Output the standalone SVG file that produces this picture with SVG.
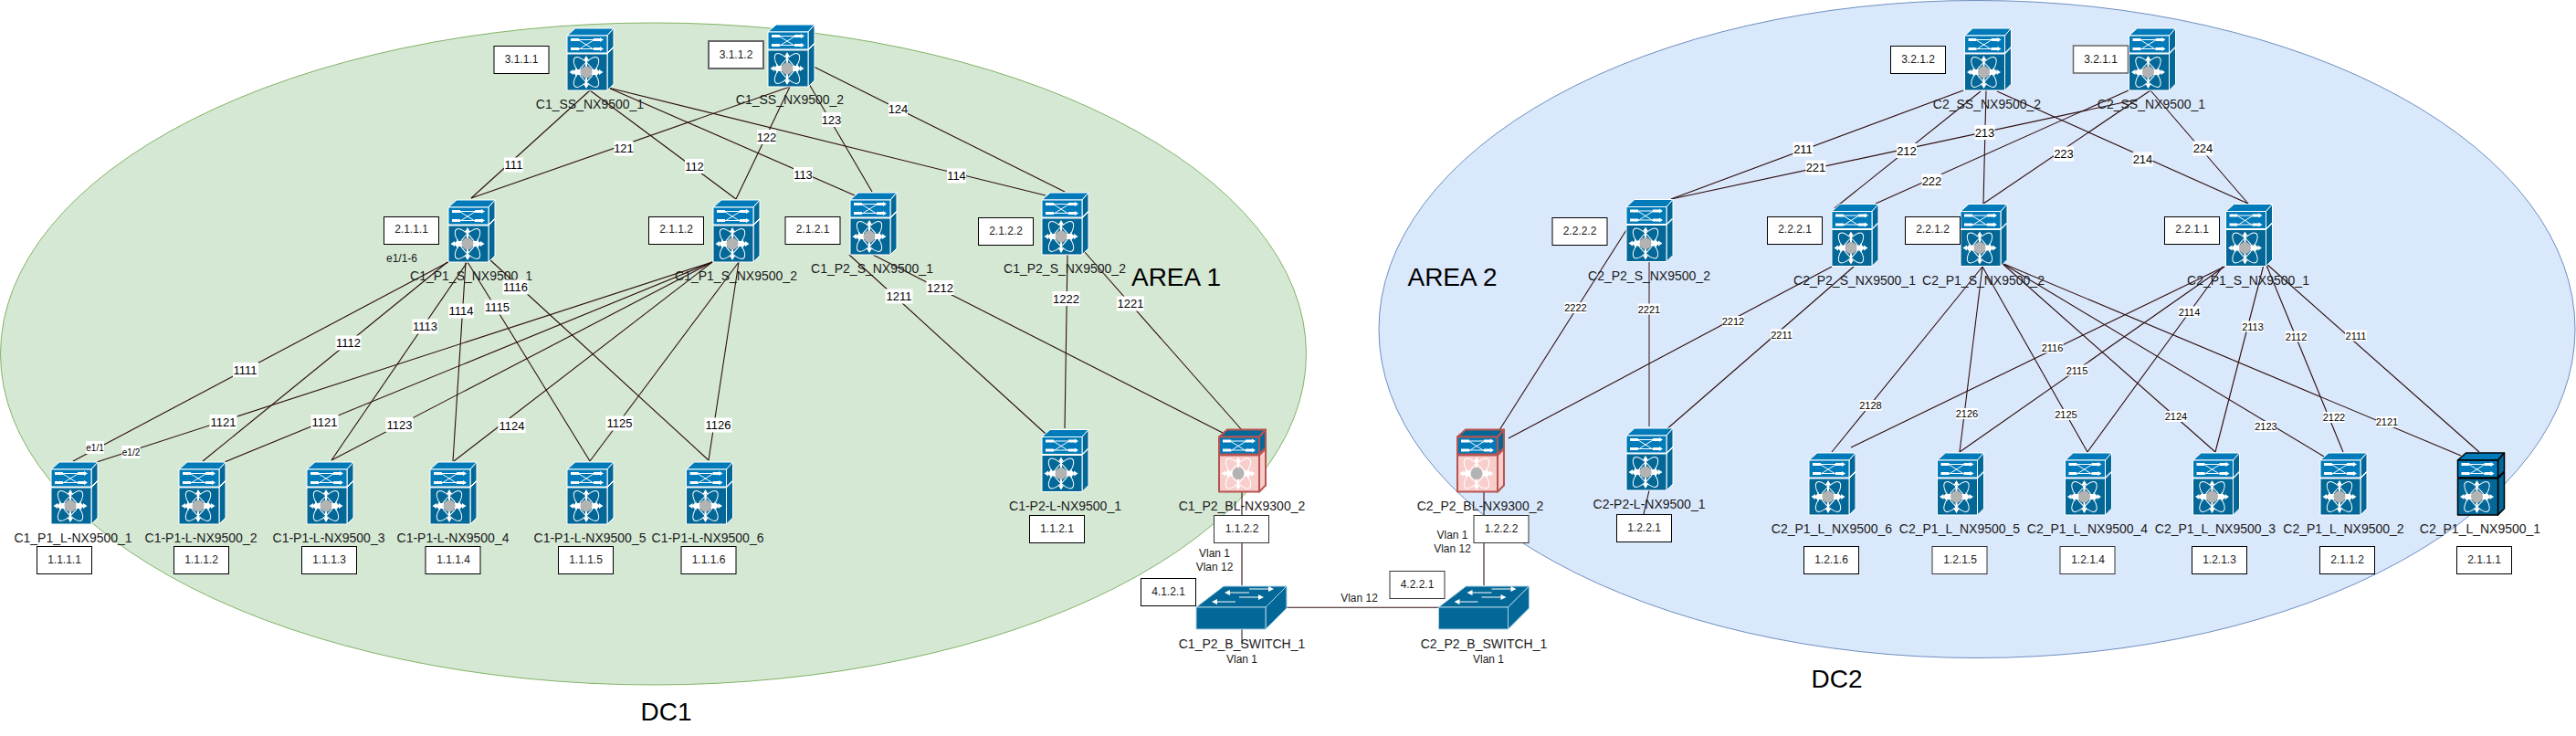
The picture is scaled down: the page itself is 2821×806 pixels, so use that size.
<svg xmlns="http://www.w3.org/2000/svg" width="2821" height="806" viewBox="0 0 2821 806">
<style>
text{font-family:"Liberation Sans",Arial,sans-serif;fill:#1a1a1a;text-anchor:middle;dominant-baseline:central}
.nl{font-size:14px}
.ip{font-size:12px}
.big{font-size:28px;fill:#000}
.v{font-size:12px}
.el{font-size:13px;fill:#000}
.es{font-size:11px;fill:#000}
.ep{font-size:10px;fill:#000}
.box{fill:#fff;stroke:#000;stroke-width:1}
.gbox{fill:#fff;stroke:#666;stroke-width:2}
.bg{fill:#fff;stroke:none}
#connectors line{stroke:#2e0d0d;stroke-width:1.1;fill:none}
#connectors line.soft{stroke:#6d5a63;stroke-width:1.5}
.nx{--st:#fff;--sw:1;--tf:#007ab8;--tb:#007ab8;--ts:#036897;--lf:#036897;--ls:#036897}
.nx.bl{--st:#b85450;--sw:2;--tf:#036897;--ts:#036897;--lf:#f8cecc;--ls:#f8cecc}
.nx.dk{--st:#000;--sw:1.5}
.f{stroke:var(--st);stroke-width:var(--sw);stroke-linejoin:round}
.w{stroke:#fff;fill:none;stroke-width:1}
.wf{fill:#fff;stroke:none}
</style>
<defs>
<g id="nx">
<path class="f" style="fill:var(--ls)" d="M45 29L52 22V62L45 69Z"/>
<path class="f" style="fill:var(--lf)" d="M1 29H45V69H1Z"/>
<path class="f" style="fill:var(--tf)" d="M1 9L10 1H52L45 9Z"/>
<path class="f" style="fill:var(--ts)" d="M45 9L52 1V21L45 28Z"/>
<path class="f" style="fill:var(--tb)" d="M1 9H45V28H1Z"/>
<path class="wf" d="M5 12H14V15H5ZM5 22H14V25H5ZM30 12H37V11L41 13.5L37 16V15H30ZM30 22H37V21L41 23.5L37 26V25H30Z"/>
<path class="w" d="M14 14L30 24M14 24L30 14M14 13.5H30M14 23.500H30"/>
<ellipse class="w" cx="22" cy="49" rx="20" ry="7.500" transform="rotate(52 22 49)"/>
<ellipse class="w" cx="22" cy="49" rx="20" ry="7.500" transform="rotate(-52 22 49)"/>
<path class="wf" d="M22 31L25 36H23V46H32V44L37 49L32 54V52H23V62H25L22 67L19 62H21V52H12V54L7 49L12 44V46H21V36H19Z" transform="translate(0 0)"/>
<path class="wf" d="M3.500 49L8 46V52ZM40.500 49L36 46V52Z"/>
<circle cx="22" cy="49" r="6.500" fill="#b3b3b3"/>
</g>
<g id="sw">
<path d="M0 24L30 1H99L76 24Z" fill="#036897" stroke="#a8d0e6" stroke-width="1"/>
<path d="M76 24L99 1V25L76 48Z" fill="#036897" stroke="#a8d0e6" stroke-width="1"/>
<rect x="0" y="24" width="76" height="24" fill="#036897" stroke="#a8d0e6" stroke-width="1"/>
<path class="wf" d="M58 7.500V8.500H37V11L31 8L37 5V7.500ZM58 3.500H79V1L85 4L79 7V4.500H58ZM43 17.500V18.500H23V21L17 18L23 15V17.500ZM47 12.500H68V10L74 13L68 16V13.500H47Z"/>
</g>
</defs>

<ellipse id="dc1-area" cx="715.500" cy="387.500" rx="715" ry="362.500" fill="#d5e8d4" stroke="#82b366"/>
<ellipse id="dc2-area" cx="2165" cy="360.500" rx="655" ry="360" fill="#dae8fc" stroke="#6c8ebf"/>

<g id="connectors">
<line x1="646" y1="99" x2="516" y2="217"/>
<line x1="865" y1="95" x2="516" y2="217"/>
<line x1="646" y1="99" x2="806" y2="218"/>
<line x1="865" y1="95" x2="806" y2="218"/>
<line x1="666" y1="96" x2="936" y2="214"/>
<line x1="886" y1="92" x2="955" y2="210"/>
<line x1="666" y1="96" x2="1145" y2="214"/>
<line x1="891" y1="73" x2="1166" y2="210"/>
<line x1="491" y1="287" x2="80" y2="505"/>
<line x1="490" y1="287" x2="222" y2="505"/>
<line x1="511" y1="288" x2="363" y2="504"/>
<line x1="510" y1="287" x2="496" y2="505"/>
<line x1="512" y1="287" x2="646" y2="505"/>
<line x1="536" y1="284" x2="776" y2="504"/>
<line x1="780" y1="287" x2="106" y2="506"/>
<line x1="780" y1="287" x2="246" y2="506"/>
<line x1="780" y1="287" x2="363" y2="504"/>
<line x1="780" y1="287" x2="497" y2="505"/>
<line x1="809" y1="287" x2="646" y2="505"/>
<line x1="809" y1="287" x2="776" y2="504"/>
<line x1="930" y1="279" x2="1145" y2="475"/>
<line x1="956" y1="279" x2="1339" y2="474"/>
<line x1="1169" y1="279" x2="1166" y2="469"/>
<line x1="1187" y1="275" x2="1360" y2="471"/>
<line x1="1360" y1="539" x2="1360" y2="641"/>
<line class="soft" x1="1360" y1="689" x2="1360" y2="706"/>
<line x1="1409" y1="665.300" x2="1575" y2="665.300"/>
<line x1="1625" y1="539" x2="1625" y2="641"/>
<line x1="2150" y1="99" x2="1830" y2="218"/>
<line x1="2340" y1="109" x2="1830" y2="218"/>
<line x1="2169" y1="100" x2="2009" y2="228"/>
<line x1="2331" y1="99" x2="2054" y2="223"/>
<line x1="2175" y1="99" x2="2172" y2="223"/>
<line x1="2355" y1="99" x2="2172" y2="223"/>
<line x1="2187" y1="100" x2="2462" y2="223"/>
<line x1="2355" y1="99" x2="2462" y2="223"/>
<line x1="1781" y1="252" x2="1642" y2="471"/>
<line class="soft" x1="1806" y1="287" x2="1806" y2="467"/>
<line x1="1806" y1="537" x2="1800" y2="563"/>
<line x1="2006" y1="292" x2="1652" y2="480"/>
<line x1="2030" y1="292" x2="1816" y2="478"/>
<line x1="2171" y1="292" x2="2006" y2="495"/>
<line x1="2436" y1="292" x2="2027" y2="490"/>
<line x1="2171" y1="292" x2="2146" y2="495"/>
<line x1="2436" y1="292" x2="2146" y2="495"/>
<line x1="2171" y1="292" x2="2286" y2="495"/>
<line x1="2434" y1="292" x2="2286" y2="495"/>
<line x1="2192" y1="288" x2="2426" y2="495"/>
<line x1="2479" y1="290" x2="2426" y2="495"/>
<line x1="2192" y1="288" x2="2545" y2="500"/>
<line x1="2481" y1="288" x2="2566" y2="495"/>
<line x1="2192" y1="288" x2="2695" y2="499"/>
<line x1="2481" y1="288" x2="2715" y2="495"/>
</g>

<g id="n-c1-ss-1"><use href="#nx" class="nx" x="620" y="30"/><text class="nl" x="646" y="114">C1_SS_NX9500_1</text><rect class="box" x="541" y="50.500" width="60" height="30"/><text class="ip" x="571" y="65">3.1.1.1</text></g>
<g id="n-c1-ss-2"><use href="#nx" class="nx" x="840" y="26"/><text class="nl" x="865" y="109">C1_SS_NX9500_2</text><rect class="gbox" x="776" y="45" width="60" height="30"/><text class="ip" x="806" y="59.500">3.1.1.2</text></g>
<g id="n-c1-p1-s-1"><use href="#nx" class="nx" x="490" y="218"/><text class="nl" x="516" y="302">C1_P1_S_NX9500_1</text><rect class="box" x="420.500" y="237.500" width="60" height="30"/><text class="ip" x="450.500" y="251">2.1.1.1</text><text class="v" x="440" y="283">e1/1-6</text></g>
<g id="n-c1-p1-s-2"><use href="#nx" class="nx" x="780" y="218"/><text class="nl" x="806" y="302">C1_P1_S_NX9500_2</text><rect class="box" x="710.500" y="237.500" width="60" height="30"/><text class="ip" x="740.500" y="251">2.1.1.2</text></g>
<g id="n-c1-p2-s-1"><use href="#nx" class="nx" x="930" y="210"/><text class="nl" x="955" y="294">C1_P2_S_NX9500_1</text><rect class="box" x="860" y="237.500" width="60" height="30"/><text class="ip" x="890" y="251">2.1.2.1</text></g>
<g id="n-c1-p2-s-2"><use href="#nx" class="nx" x="1140" y="210"/><text class="nl" x="1166" y="294">C1_P2_S_NX9500_2</text><rect class="box" x="1071.500" y="238.500" width="60" height="30"/><text class="ip" x="1101.500" y="252.500">2.1.2.2</text></g>
<g id="n-c1-p1-l-1"><use href="#nx" class="nx" x="55" y="505"/><text class="nl" x="80" y="589">C1_P1_L-NX9500_1</text><rect class="box" x="40.500" y="598.500" width="60" height="30"/><text class="ip" x="70.500" y="612.500">1.1.1.1</text></g>
<g id="n-c1-p1-l-2"><use href="#nx" class="nx" x="195" y="505"/><text class="nl" x="220" y="589">C1-P1-L-NX9500_2</text><rect class="box" x="190.500" y="598.500" width="60" height="30"/><text class="ip" x="220.500" y="612.500">1.1.1.2</text></g>
<g id="n-c1-p1-l-3"><use href="#nx" class="nx" x="335" y="505"/><text class="nl" x="360" y="589">C1-P1-L-NX9500_3</text><rect class="box" x="330.500" y="598.500" width="60" height="30"/><text class="ip" x="360.500" y="612.500">1.1.1.3</text></g>
<g id="n-c1-p1-l-4"><use href="#nx" class="nx" x="470" y="505"/><text class="nl" x="496" y="589">C1-P1-L-NX9500_4</text><rect class="box" x="466" y="598.500" width="60" height="30"/><text class="ip" x="496.500" y="612.500">1.1.1.4</text></g>
<g id="n-c1-p1-l-5"><use href="#nx" class="nx" x="620" y="505"/><text class="nl" x="646" y="589">C1-P1-L-NX9500_5</text><rect class="box" x="611.500" y="598.500" width="60" height="30"/><text class="ip" x="641.500" y="612.500">1.1.1.5</text></g>
<g id="n-c1-p1-l-6"><use href="#nx" class="nx" x="750.500" y="505"/><text class="nl" x="775" y="589">C1-P1-L-NX9500_6</text><rect class="box" x="746" y="598.500" width="60" height="30"/><text class="ip" x="776" y="612.500">1.1.1.6</text></g>
<g id="n-c1-p2-l-1"><use href="#nx" class="nx" x="1140" y="469.500"/><text class="nl" x="1166.500" y="554">C1-P2-L-NX9500_1</text><rect class="box" x="1127.500" y="564.500" width="60" height="30"/><text class="ip" x="1157.500" y="578.500">1.1.2.1</text></g>
<g id="n-c1-p2-bl-2"><use href="#nx" class="nx bl" x="1334" y="469.500"/><text class="nl" x="1360" y="554">C1_P2_BL-NX9300_2</text><rect class="box" x="1329.500" y="564.500" width="60" height="30" style="stroke:#333"/><text class="ip" x="1360" y="578.500">1.1.2.2</text><text class="v" x="1330" y="605.500">Vlan 1</text><text class="v" x="1330" y="620.500">Vlan 12</text></g>
<g id="n-c1-sw"><use href="#sw" x="1310" y="641"/><rect class="box" x="1249.500" y="633.500" width="60" height="30"/><text class="ip" x="1279.500" y="647.500">4.1.2.1</text><text class="nl" x="1360" y="705">C1_P2_B_SWITCH_1</text><text class="v" x="1360" y="722">Vlan 1</text></g>
<g id="n-c2-sw"><use href="#sw" x="1575.500" y="641"/><rect class="box" x="1522" y="625.500" width="60" height="30" style="stroke:#333"/><text class="ip" x="1552" y="639.500">4.2.2.1</text><text class="nl" x="1625" y="705">C2_P2_B_SWITCH_1</text><text class="v" x="1630" y="722">Vlan 1</text><text class="v" x="1488.500" y="655">Vlan 12</text></g>
<g id="n-c2-p2-bl-2"><use href="#nx" class="nx bl" x="1595" y="469.500"/><text class="nl" x="1621" y="554">C2_P2_BL-NX9300_2</text><rect class="box" x="1614" y="564.500" width="60" height="30" style="stroke:#333"/><text class="ip" x="1644" y="578.500">1.2.2.2</text><text class="v" x="1590.500" y="585.500">Vlan 1</text><text class="v" x="1590.500" y="600.500">Vlan 12</text></g>
<g id="n-c2-p2-l-1"><use href="#nx" class="nx" x="1780" y="468"/><text class="nl" x="1806" y="552">C2-P2-L-NX9500_1</text><rect class="box" x="1770.500" y="563.500" width="60" height="30"/><text class="ip" x="1800.500" y="577.500">1.2.2.1</text></g>
<g id="n-c2-p2-s-2"><use href="#nx" class="nx" x="1780" y="217.500"/><text class="nl" x="1806" y="302">C2_P2_S_NX9500_2</text><rect class="box" x="1700" y="238.500" width="60" height="30"/><text class="ip" x="1730" y="252.500">2.2.2.2</text></g>
<g id="n-c2-p2-s-1"><use href="#nx" class="nx" x="2005" y="222.500"/><text class="nl" x="2031" y="307">C2_P2_S_NX9500_1</text><rect class="box" x="1935.500" y="237.500" width="60" height="30"/><text class="ip" x="1965.500" y="251">2.2.2.1</text></g>
<g id="n-c2-p1-s-2"><use href="#nx" class="nx" x="2146" y="222.500"/><text class="nl" x="2172" y="307">C2_P1_S_NX9500_2</text><rect class="box" x="2086.500" y="237.500" width="60" height="30"/><text class="ip" x="2116.500" y="251">2.2.1.2</text></g>
<g id="n-c2-p1-s-1"><use href="#nx" class="nx" x="2436.500" y="222.500"/><text class="nl" x="2462" y="307">C2_P1_S_NX9500_1</text><rect class="box" x="2370.500" y="237.500" width="60" height="30"/><text class="ip" x="2400.500" y="251">2.2.1.1</text></g>
<g id="n-c2-ss-2"><use href="#nx" class="nx" x="2150.500" y="30"/><text class="nl" x="2176" y="114">C2_SS_NX9500_2</text><rect class="box" x="2070.500" y="50.500" width="60" height="30"/><text class="ip" x="2100.500" y="65">3.2.1.2</text></g>
<g id="n-c2-ss-1"><use href="#nx" class="nx" x="2330.500" y="30"/><text class="nl" x="2356" y="114">C2_SS_NX9500_1</text><rect class="gbox" x="2270.500" y="50" width="60" height="30" style="stroke-width:1.500"/><text class="ip" x="2300.500" y="65">3.2.1.1</text></g>
<g id="n-c2-p1-l-6"><use href="#nx" class="nx" x="1980" y="495"/><text class="nl" x="2006" y="579">C2_P1_L_NX9500_6</text><rect class="box" x="1975.500" y="598.500" width="60" height="30"/><text class="ip" x="2005.500" y="612.500">1.2.1.6</text></g>
<g id="n-c2-p1-l-5"><use href="#nx" class="nx" x="2120.500" y="495"/><text class="nl" x="2146" y="579">C2_P1_L_NX9500_5</text><rect class="box" x="2116" y="598.500" width="60" height="30" style="stroke:#333"/><text class="ip" x="2146.500" y="612.500">1.2.1.5</text></g>
<g id="n-c2-p1-l-4"><use href="#nx" class="nx" x="2260.500" y="495"/><text class="nl" x="2286" y="579">C2_P1_L_NX9500_4</text><rect class="box" x="2256" y="598.500" width="60" height="30" style="stroke:#333"/><text class="ip" x="2286.500" y="612.500">1.2.1.4</text></g>
<g id="n-c2-p1-l-3"><use href="#nx" class="nx" x="2400.500" y="495"/><text class="nl" x="2426" y="579">C2_P1_L_NX9500_3</text><rect class="box" x="2400.500" y="598.500" width="60" height="30"/><text class="ip" x="2430.500" y="612.500">1.2.1.3</text></g>
<g id="n-c2-p1-l-2"><use href="#nx" class="nx" x="2540" y="495"/><text class="nl" x="2566.500" y="579">C2_P1_L_NX9500_2</text><rect class="box" x="2540.500" y="598.500" width="60" height="30"/><text class="ip" x="2570.500" y="612.500">2.1.1.2</text></g>
<g id="n-c2-p1-l-1"><use href="#nx" class="nx dk" x="2690.500" y="495"/><text class="nl" x="2716" y="579">C2_P1_L_NX9500_1</text><rect class="box" x="2690.500" y="598.500" width="60" height="30"/><text class="ip" x="2720.500" y="612.500">2.1.1.1</text></g>

<g id="edge-labels">
<rect class="bg" x="552" y="172.500" width="21" height="16"/><text class="el" x="562.500" y="180.500">111</text>
<rect class="bg" x="672.500" y="154.500" width="21" height="16"/><text class="el" x="683" y="162.500">121</text>
<rect class="bg" x="750" y="174" width="21" height="16"/><text class="el" x="760.500" y="182">112</text>
<rect class="bg" x="829" y="142" width="21" height="16"/><text class="el" x="839.500" y="150">122</text>
<rect class="bg" x="869" y="183" width="21" height="16"/><text class="el" x="879.500" y="191">113</text>
<rect class="bg" x="900" y="123" width="21" height="16"/><text class="el" x="910.500" y="131">123</text>
<rect class="bg" x="1037" y="184.500" width="21" height="16"/><text class="el" x="1047.500" y="192.500">114</text>
<rect class="bg" x="973" y="111.500" width="21" height="16"/><text class="el" x="983.500" y="119.500">124</text>
<rect class="bg" x="255" y="397" width="28" height="16"/><text class="el" x="268.500" y="405">1111</text>
<rect class="bg" x="367.500" y="367.500" width="28" height="16"/><text class="el" x="381.500" y="375.500">1112</text>
<rect class="bg" x="451.500" y="349.500" width="28" height="16"/><text class="el" x="465.500" y="357.500">1113</text>
<rect class="bg" x="491" y="332.500" width="28" height="16"/><text class="el" x="505" y="340.500">1114</text>
<rect class="bg" x="530.500" y="328.500" width="28" height="16"/><text class="el" x="544.500" y="336.500">1115</text>
<rect class="bg" x="550.500" y="306.500" width="28" height="16"/><text class="el" x="564.500" y="314.500">1116</text>
<rect class="bg" x="229.500" y="454" width="30" height="16"/><text class="el" x="244.500" y="462">1121</text>
<rect class="bg" x="340.500" y="454" width="30" height="16"/><text class="el" x="355.500" y="462">1121</text>
<rect class="bg" x="422.500" y="457" width="30" height="16"/><text class="el" x="437.500" y="465">1123</text>
<rect class="bg" x="545.500" y="458" width="30" height="16"/><text class="el" x="560.500" y="466">1124</text>
<rect class="bg" x="663.500" y="455.500" width="30" height="16"/><text class="el" x="678.500" y="463.500">1125</text>
<rect class="bg" x="771.500" y="457.500" width="30" height="16"/><text class="el" x="786.500" y="465.500">1126</text>
<rect class="bg" x="94" y="483" width="20" height="14"/><text class="ep" x="104" y="490.500">e1/1</text>
<rect class="bg" x="133.500" y="488" width="20" height="14"/><text class="ep" x="143.500" y="495.500">e1/2</text>
<rect class="bg" x="969.500" y="316.500" width="30" height="16"/><text class="el" x="984.500" y="324.500">1211</text>
<rect class="bg" x="1014.500" y="307" width="30" height="16"/><text class="el" x="1029.500" y="315">1212</text>
<rect class="bg" x="1152.500" y="319" width="30" height="16"/><text class="el" x="1167.500" y="327">1222</text>
<rect class="bg" x="1223" y="324.500" width="30" height="16"/><text class="el" x="1238" y="332.500">1221</text>
<rect class="bg" x="1963.500" y="155.500" width="22" height="16"/><text class="el" x="1974.500" y="163.500">211</text>
<rect class="bg" x="1977.500" y="175.500" width="22" height="16"/><text class="el" x="1988.500" y="183.500">221</text>
<rect class="bg" x="2077" y="157" width="22" height="16"/><text class="el" x="2088" y="165">212</text>
<rect class="bg" x="2104.500" y="190.500" width="22" height="16"/><text class="el" x="2115.500" y="198.500">222</text>
<rect class="bg" x="2162.500" y="137" width="22" height="16"/><text class="el" x="2173.500" y="145">213</text>
<rect class="bg" x="2249" y="160.500" width="22" height="16"/><text class="el" x="2260" y="168.500">223</text>
<rect class="bg" x="2335.500" y="166.500" width="22" height="16"/><text class="el" x="2346.500" y="174.500">214</text>
<rect class="bg" x="2401.500" y="154.500" width="22" height="16"/><text class="el" x="2412.500" y="162.500">224</text>
<rect class="bg" x="1713.500" y="331" width="24" height="12"/><text class="es" x="1725.500" y="337">2222</text>
<rect class="bg" x="1794" y="332.500" width="24" height="12"/><text class="es" x="1806" y="338.500">2221</text>
<rect class="bg" x="1886" y="346" width="24" height="12"/><text class="es" x="1898" y="352">2212</text>
<rect class="bg" x="1939" y="360.500" width="24" height="12"/><text class="es" x="1951" y="366.500">2211</text>
<rect class="bg" x="2036.500" y="438" width="24" height="12"/><text class="es" x="2048.500" y="444">2128</text>
<rect class="bg" x="2235.500" y="374.500" width="24" height="12"/><text class="es" x="2247.500" y="380.500">2116</text>
<rect class="bg" x="2142" y="447" width="24" height="12"/><text class="es" x="2154" y="453">2126</text>
<rect class="bg" x="2262.500" y="399.500" width="24" height="12"/><text class="es" x="2274.500" y="405.500">2115</text>
<rect class="bg" x="2250.500" y="448" width="24" height="12"/><text class="es" x="2262.500" y="454">2125</text>
<rect class="bg" x="2385.500" y="335.500" width="24" height="12"/><text class="es" x="2397.500" y="341.500">2114</text>
<rect class="bg" x="2371" y="450" width="24" height="12"/><text class="es" x="2383" y="456">2124</text>
<rect class="bg" x="2455" y="351.500" width="24" height="12"/><text class="es" x="2467" y="357.500">2113</text>
<rect class="bg" x="2469.500" y="461" width="24" height="12"/><text class="es" x="2481.500" y="467">2123</text>
<rect class="bg" x="2502.500" y="362.500" width="24" height="12"/><text class="es" x="2514.500" y="368.500">2112</text>
<rect class="bg" x="2544" y="451" width="24" height="12"/><text class="es" x="2556" y="457">2122</text>
<rect class="bg" x="2602" y="456" width="24" height="12"/><text class="es" x="2614" y="462">2121</text>
<rect class="bg" x="2568" y="361.500" width="24" height="12"/><text class="es" x="2580" y="367.500">2111</text>
</g>

<text class="big" x="1288" y="303">AREA 1</text>
<text class="big" x="1590.500" y="303">AREA 2</text>
<text class="big" x="729.500" y="779">DC1</text>
<text class="big" x="2011.500" y="743">DC2</text>
</svg>
